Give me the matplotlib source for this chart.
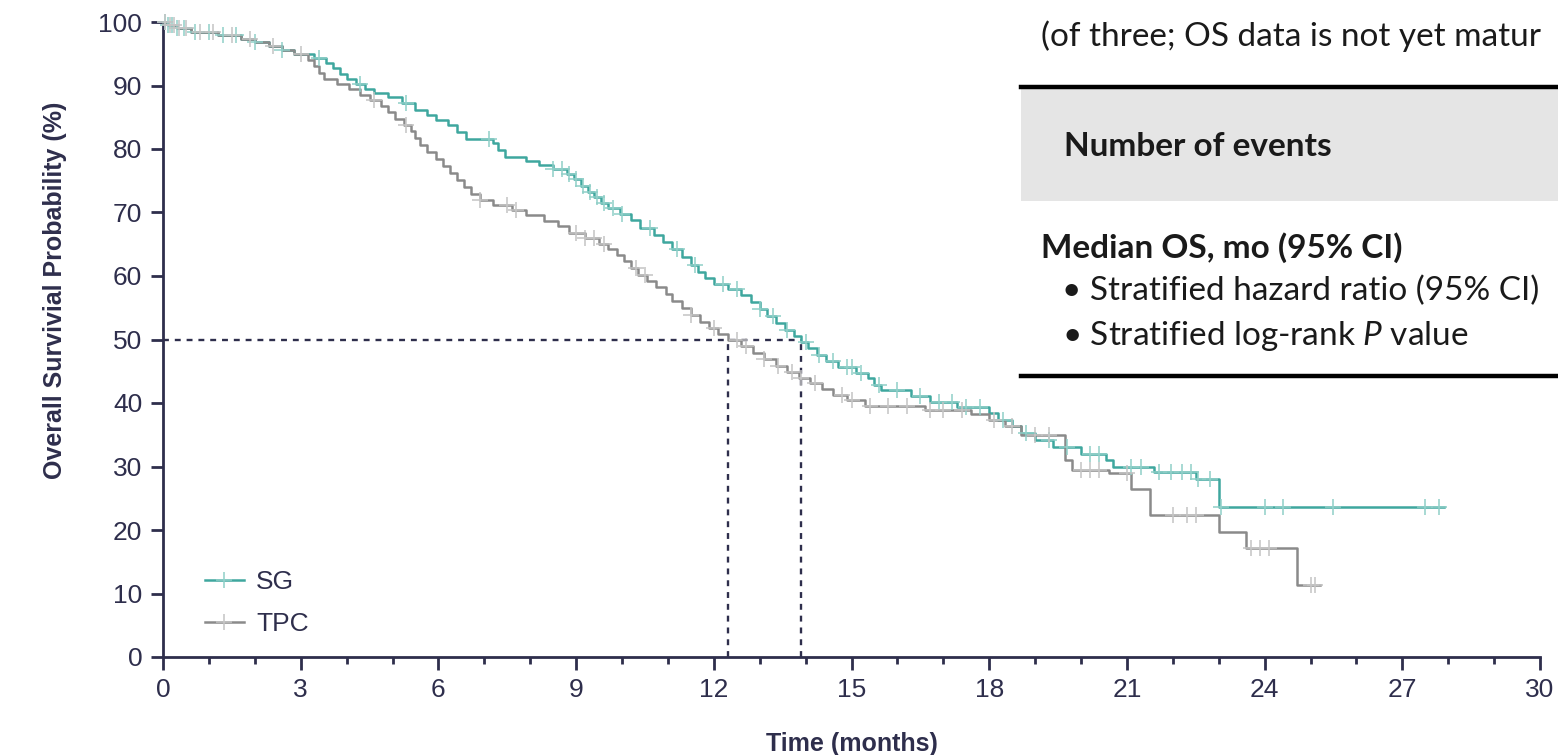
import numpy as np
import matplotlib.pyplot as plt
from matplotlib.patches import Rectangle
from matplotlib.lines import Line2D

plt.rcParams['mathtext.fontset'] = 'custom'
plt.rcParams['mathtext.rm'] = 'Lato'
plt.rcParams['mathtext.it'] = 'Lato:italic'

# Kaplan-Meier step points (months, % surviving)
sg_t = [0.0, 0.1, 0.3, 0.6, 1.2, 1.7, 2.0, 2.3, 2.6, 2.85, 3.3, 3.55, 3.7, 3.85, 4.0,
        4.2, 4.4, 4.6, 4.9, 5.2, 5.5, 5.75, 5.95, 6.2, 6.4, 6.6, 7.2, 7.3, 7.45, 7.9,
        8.2, 8.5, 8.8, 8.95, 9.1, 9.25, 9.4, 9.55, 9.7, 9.95, 10.2, 10.4, 10.7, 10.9,
        11.1, 11.3, 11.5, 11.65, 11.8, 12.0, 12.3, 12.6, 12.8, 13.0, 13.15, 13.35,
        13.55, 13.75, 13.9, 14.05, 14.25, 14.45, 14.7, 15.1, 15.35, 15.5, 15.65, 16.3,
        16.7, 17.3, 18.0, 18.2, 18.5, 18.7, 19.0, 19.4, 20.0, 20.55, 20.7, 21.6, 22.5,
        23.0, 27.9]
sg_s = [100, 99.6, 99.1, 98.5, 98.0, 97.4, 96.9, 96.2, 95.6, 94.9, 94.4, 93.6, 92.7,
        91.8, 91.0, 90.3, 89.5, 88.8, 88.2, 87.3, 86.2, 85.4, 84.6, 83.8, 82.7, 81.5,
        80.9, 79.8, 78.8, 78.1, 77.5, 76.8, 76.0, 75.2, 74.2, 73.3, 72.4, 71.5, 70.7,
        69.8, 68.8, 67.6, 66.5, 65.4, 64.2, 63.0, 61.8, 60.7, 59.7, 58.8, 57.9, 57.0,
        55.9, 54.8, 53.7, 52.6, 51.5, 50.6, 49.6, 48.6, 47.6, 46.6, 45.7, 44.8, 43.9,
        42.9, 42.0, 41.1, 40.2, 39.4, 38.4, 37.4, 36.4, 35.3, 34.2, 33.1, 32.0, 31.0,
        30.0, 29.2, 28.0, 23.7, 23.7]

tpc_t = [0.0, 0.1, 0.3, 0.6, 1.2, 1.7, 2.0, 2.3, 2.6, 2.85, 3.15, 3.3, 3.4, 3.5, 3.8,
         4.05, 4.3, 4.5, 4.75, 4.9, 5.05, 5.25, 5.4, 5.5, 5.6, 5.75, 5.95, 6.1, 6.25,
         6.4, 6.55, 6.7, 6.9, 7.2, 7.6, 7.9, 8.3, 8.6, 8.85, 9.2, 9.5, 9.7, 9.9, 10.05,
         10.2, 10.35, 10.55, 10.75, 10.95, 11.1, 11.3, 11.5, 11.7, 11.9, 12.1, 12.3,
         12.6, 12.85, 13.1, 13.35, 13.6, 13.85, 14.1, 14.35, 14.6, 14.9, 15.3, 16.6,
         17.6, 18.0, 18.35, 18.7, 19.65, 19.8, 20.6, 21.1, 21.5, 23.0, 23.6, 24.7, 25.2]
tpc_s = [100, 99.6, 99.1, 98.5, 98.0, 97.4, 96.9, 96.2, 95.6, 94.9, 94.0, 93.0, 92.0,
         91.1, 90.3, 89.4, 88.5, 87.7, 86.8, 85.8, 84.8, 83.8, 82.8, 81.7, 80.6, 79.5,
         78.4, 77.3, 76.2, 75.1, 74.0, 72.9, 72.0, 71.2, 70.4, 69.6, 68.7, 67.8, 66.8,
         66.0, 65.1, 64.2, 63.3, 62.3, 61.3, 60.2, 59.2, 58.2, 57.1, 56.0, 54.9, 53.8,
         52.8, 51.8, 50.9, 49.9, 48.9, 47.9, 46.9, 45.9, 44.9, 44.0, 43.1, 42.2, 41.3,
         40.4, 39.5, 38.9, 38.3, 37.3, 36.3, 34.9, 31.0, 29.5, 28.9, 26.4, 22.4, 19.7,
         17.1, 11.4, 11.4]

# censoring times (months)
sg_cens = [0.05, 0.1, 0.2, 0.3, 0.45, 0.7, 1.0, 1.3, 1.6, 2.0, 2.6, 3.4, 4.3, 5.3, 7.1,
           8.5, 8.7, 8.85, 9.0, 9.15, 9.3, 9.45, 9.6, 9.8, 10.0, 10.6, 11.2, 11.6, 12.2,
           12.5, 13.0, 13.3, 13.6, 14.0, 14.3, 14.6, 14.9, 15.0, 15.2, 15.6, 16.0, 16.5,
           16.9, 17.2, 17.5, 17.8, 18.3, 18.8, 19.3, 19.7, 20.2, 20.4, 21.1, 21.3, 21.7,
           21.95, 22.2, 22.4, 22.55, 22.8, 23.05, 24.0, 24.4, 25.5, 27.5, 27.8]
tpc_cens = [0.05, 0.15, 0.25, 0.35, 0.5, 0.8, 1.1, 1.5, 1.9, 2.4, 3.0, 4.6, 5.3, 6.9,
            7.5, 7.7, 9.0, 9.2, 9.4, 9.6, 10.3, 10.5, 11.5, 12.0, 12.5, 12.7, 13.1, 13.4,
            13.7, 13.9, 14.2, 14.8, 15.0, 15.4, 15.8, 16.2, 16.7, 17.0, 17.4, 18.1, 18.5,
            19.0, 19.3, 20.0, 20.2, 20.4, 21.0, 22.0, 22.3, 22.5, 23.7, 23.9, 24.1, 25.0,
            25.1]

median_sg = 13.9
median_tpc = 12.3

NAVY = '#2e2e4c'
SG_COL, SG_CENS = '#3ea79e', '#8fcfc8'
TPC_COL, TPC_CENS = '#8a8a8a', '#c4c4c4'


def step_at(t, s, x):
    # value of the step function at the censoring time
    idx = np.searchsorted(np.array(t), np.array(x), side='right') - 1
    return np.array(s)[idx]


fig = plt.figure(figsize=(15.58, 7.55), dpi=100)
ax = fig.add_axes([163 / 1558, 98 / 755, 1377 / 1558, 635 / 755])

for t, s, cens, col, ccol in [(sg_t, sg_s, sg_cens, SG_COL, SG_CENS),
                             (tpc_t, tpc_s, tpc_cens, TPC_COL, TPC_CENS)]:
    ax.plot(t, s, drawstyle='steps-post', color=col, lw=1.8, clip_on=False, zorder=3)
    ax.plot(cens, step_at(t, s, cens), ls='none', marker='+', ms=11, mew=1.1,
            color=ccol, clip_on=False, zorder=4)

# median survival guides
ax.plot([0, median_sg], [50, 50], color=NAVY, lw=1.7, ls=(0, (2.5, 2.5)), zorder=2)
ax.plot([median_tpc, median_tpc], [0, 50], color=NAVY, lw=1.7, ls=(0, (2.5, 2.5)), zorder=2)
ax.plot([median_sg, median_sg], [0, 50], color=NAVY, lw=1.7, ls=(0, (2.5, 2.5)), zorder=2)

ax.set_xlim(0, 30)
ax.set_ylim(0, 100)
ax.set_xticks(range(0, 31, 3))
ax.set_xticks(range(0, 31), minor=True)
ax.set_yticks(range(0, 101, 10))
for side in ['top', 'right']:
    ax.spines[side].set_visible(False)
for side in ['left', 'bottom']:
    ax.spines[side].set_color(NAVY)
    ax.spines[side].set_linewidth(2)
ax.tick_params(which='major', length=9, width=2, color=NAVY, labelcolor=NAVY,
               labelsize=19, pad=6)
ax.tick_params(which='minor', axis='x', length=5, width=2, color=NAVY)
for lab in ax.get_xticklabels() + ax.get_yticklabels():
    lab.set_fontfamily('Liberation Sans')

ax.set_ylabel('Overall Survivial Probability (%)', fontsize=18, fontweight='bold',
              color=NAVY, family='Liberation Sans')
ax.yaxis.set_label_coords(-0.07, 0.578)
ax.set_xlabel('Time (months)', fontsize=18, fontweight='bold', color=NAVY,
              family='Liberation Sans', labelpad=22)

handles = [Line2D([], [], color=SG_COL, lw=1.8, marker='+', ms=11, mew=1.1,
                  markeredgecolor=SG_CENS),
           Line2D([], [], color=TPC_COL, lw=1.8, marker='+', ms=11, mew=1.1,
                  markeredgecolor=TPC_CENS)]
leg = ax.legend(handles, ['SG', 'TPC'], loc='lower left', bbox_to_anchor=(0.013, -0.005),
                frameon=False, handlelength=1.5, handletextpad=0.45, labelspacing=0.7,
                prop={'family': 'Liberation Sans', 'size': 19})
for txt in leg.get_texts():
    txt.set_color(NAVY)

# results table laid over the top right
W, H = 1558, 755
fig.add_artist(Rectangle((1021 / W, 1 - 201 / H), 1 - 1021 / W, 112 / H,
                         transform=fig.transFigure, color='#e5e5e5', lw=0, zorder=5))
for yy in [87, 376]:
    fig.add_artist(Line2D([1021 / W, 1], [1 - yy / H, 1 - yy / H], color='black',
                          lw=3.2, transform=fig.transFigure, zorder=6))

tfont = dict(family='Lato', fontsize=24, color='#1a1a1a', va='center', ha='left', zorder=7)
fig.text(1041 / W, 1 - 36 / H, '(of three; OS data is not yet matur', **tfont)
fig.text(1064 / W, 1 - 147 / H, 'Number of events', fontweight='bold', **tfont)
fig.text(1041 / W, 1 - 248 / H, 'Median OS, mo (95% CI)', fontweight='bold', **tfont)
fig.text(1062 / W, 1 - 291 / H, '\u2022 Stratified hazard ratio (95% CI)', **tfont)
fig.text(1062 / W, 1 - 336 / H, '\u2022 Stratified log-rank $P$ value', **tfont)

fig.savefig('out.png', dpi=100)
